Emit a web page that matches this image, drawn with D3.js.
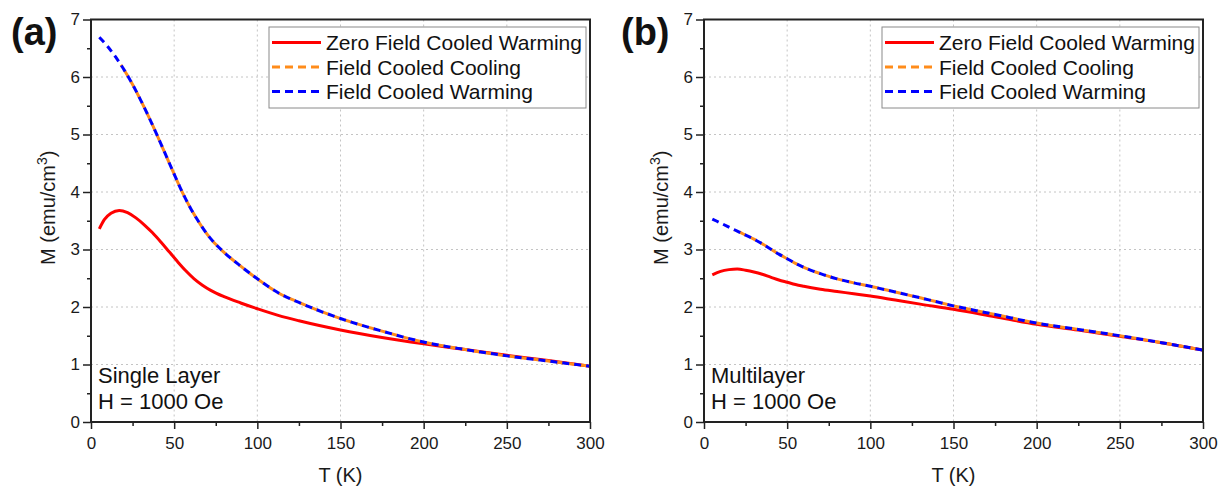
<!DOCTYPE html>
<html>
<head>
<meta charset="utf-8">
<script src="https://cdn.jsdelivr.net/npm/d3@7"></script>
<style>
  body { margin: 0; background: #fff; }
  svg { display: block; font-family: "Liberation Sans", Arial, sans-serif; }
</style>
</head>
<body>
<svg id="chart"></svg>
<script>
// ---- data ----
const seriesNames = ['Zero Field Cooled Warming', 'Field Cooled Cooling', 'Field Cooled Warming'];
const seriesColors = ['#ff0000', '#ff8c1a', '#0000ff'];

// (a) single layer
const aZfcT = [5, 8, 12, 17, 22, 27, 32, 37, 42, 47, 52, 57, 62, 67, 72, 80, 90, 100, 113, 125, 150, 175, 200, 225, 250, 275, 300];
const aZfcM = [3.36, 3.52, 3.63, 3.68, 3.64, 3.55, 3.43, 3.29, 3.13, 2.96, 2.79, 2.63, 2.49, 2.38, 2.29, 2.18, 2.07, 1.97, 1.85, 1.76, 1.60, 1.47, 1.36, 1.26, 1.16, 1.07, 0.97];
const aFcwT = [5, 10, 15, 20, 25, 30, 35, 40, 45, 50, 55, 60, 65, 70, 75, 80, 90, 100, 113, 125, 150, 175, 200, 225, 250, 275, 300];
const aFcwM = [6.69, 6.53, 6.34, 6.12, 5.87, 5.59, 5.29, 4.97, 4.64, 4.31, 3.99, 3.71, 3.47, 3.26, 3.09, 2.95, 2.71, 2.49, 2.24, 2.08, 1.80, 1.58, 1.39, 1.26, 1.15, 1.06, 0.97];
const aFccT = [18, 20, 25, 30, 35, 40, 45, 50, 55, 60, 65, 70, 75, 80, 90, 100, 113, 125, 150, 175, 200, 225, 250, 275, 300];
const aFccM = [6.21, 6.12, 5.87, 5.59, 5.29, 4.97, 4.64, 4.31, 3.99, 3.71, 3.47, 3.26, 3.09, 2.95, 2.71, 2.49, 2.24, 2.08, 1.80, 1.58, 1.39, 1.26, 1.15, 1.06, 0.97];

// (b) multilayer
const bZfcT = [5, 10, 15, 20, 25, 30, 35, 40, 45, 50, 55, 60, 70, 80, 90, 100, 115, 130, 150, 175, 200, 225, 250, 275, 300];
const bZfcM = [2.56, 2.62, 2.65, 2.66, 2.64, 2.61, 2.57, 2.52, 2.47, 2.43, 2.39, 2.36, 2.31, 2.27, 2.23, 2.19, 2.12, 2.05, 1.96, 1.83, 1.70, 1.60, 1.49, 1.38, 1.25];
const bFcwT = [5, 10, 15, 20, 25, 30, 35, 40, 45, 50, 55, 60, 70, 80, 90, 100, 115, 130, 150, 175, 200, 225, 250, 275, 300];
const bFcwM = [3.53, 3.46, 3.39, 3.32, 3.25, 3.18, 3.10, 3.01, 2.92, 2.84, 2.76, 2.69, 2.58, 2.49, 2.42, 2.36, 2.26, 2.16, 2.02, 1.87, 1.72, 1.61, 1.50, 1.38, 1.25];
const bFccT = [18, 20, 25, 30, 35, 40, 45, 50, 55, 60, 70, 80, 90, 100, 115, 130, 150, 175, 200, 225, 250, 275, 300];
const bFccM = [3.34, 3.32, 3.25, 3.18, 3.10, 3.01, 2.92, 2.84, 2.76, 2.69, 2.58, 2.49, 2.42, 2.36, 2.26, 2.16, 2.02, 1.87, 1.72, 1.61, 1.50, 1.38, 1.25];

const xTicks = [0, 50, 100, 150, 200, 250, 300];
const xMinor = [25, 75, 125, 175, 225, 275];
const yTicks = [0, 1, 2, 3, 4, 5, 6, 7];
const yMinor = [0.5, 1.5, 2.5, 3.5, 4.5, 5.5, 6.5];

const panels = [
  { tag: '(a)', left: 91, tagX: 11, titleX: 55, sample: ['Single Layer', 'H = 1000 Oe'],
    zfc: [aZfcT, aZfcM], fcc: [aFccT, aFccM], fcw: [aFcwT, aFcwM] },
  { tag: '(b)', left: 704, tagX: 621, titleX: 668, sample: ['Multilayer', 'H = 1000 Oe'],
    zfc: [bZfcT, bZfcM], fcc: [bFccT, bFccM], fcw: [bFcwT, bFcwM] }
];

// ---- layout ----
const width = 1222, height = 487;
const plotTop = 19.5, plotH = 402.5, plotW = 499;
const dash = '7,5';

const svg = d3.select('#chart').attr('width', width).attr('height', height);

const toPts = ([T, M]) => T.map((t, i) => ({ t: t, m: M[i] }));

panels.forEach(p => {
  const g = svg.append('g').attr('transform', `translate(${p.left},${plotTop})`);

  const x = d3.scaleLinear().domain([0, 300]).range([0, plotW]);
  const y = d3.scaleLinear().domain([0, 7]).range([plotH, 0]);

  // grid
  g.append('g').selectAll('line')
    .data(xTicks.slice(1, -1)).enter().append('line')
    .attr('x1', d => x(d)).attr('x2', d => x(d))
    .attr('y1', 0).attr('y2', plotH)
    .attr('stroke', '#c4c4c4').attr('stroke-width', 1).attr('stroke-dasharray', '2,3');
  g.append('g').selectAll('line')
    .data(yTicks.slice(1, -1)).enter().append('line')
    .attr('x1', 0).attr('x2', plotW)
    .attr('y1', d => y(d)).attr('y2', d => y(d))
    .attr('stroke', '#c4c4c4').attr('stroke-width', 1).attr('stroke-dasharray', '2,3');

  // curves
  const line = d3.line().x(d => x(d.t)).y(d => y(d.m)).curve(d3.curveMonotoneX);

  g.append('path').datum(toPts(p.zfc))
    .attr('d', line).attr('fill', 'none')
    .attr('stroke', seriesColors[0]).attr('stroke-width', 3);

  // phase the orange dashes so they sit in the blue gaps
  const fcwPts = toPts(p.fcw);
  const fccPts = toPts(p.fcc);
  const tmp = g.append('path').datum(fcwPts.filter(d => d.t < fccPts[0].t).concat([fccPts[0]]))
    .attr('d', line).attr('fill', 'none');
  const offs = tmp.node().getTotalLength() - 6;
  tmp.remove();

  g.append('path').datum(fccPts)
    .attr('d', line).attr('fill', 'none')
    .attr('stroke', seriesColors[1]).attr('stroke-width', 3)
    .attr('stroke-dasharray', dash).attr('stroke-dashoffset', offs);

  g.append('path').datum(fcwPts)
    .attr('d', line).attr('fill', 'none')
    .attr('stroke', seriesColors[2]).attr('stroke-width', 3)
    .attr('stroke-dasharray', dash);

  // axes
  g.append('g').attr('transform', `translate(0,${plotH})`)
    .call(d3.axisBottom(x).tickValues(xTicks).tickSize(7).tickPadding(8).tickFormat(d3.format('d')));
  g.append('g').attr('transform', `translate(0,${plotH})`)
    .call(d3.axisBottom(x).tickValues(xMinor).tickSize(4).tickFormat(''));
  g.append('g')
    .call(d3.axisLeft(y).tickValues(yTicks).tickSize(8).tickPadding(3).tickFormat(d3.format('d')));
  g.append('g')
    .call(d3.axisLeft(y).tickValues(yMinor).tickSize(4).tickFormat(''));

  g.selectAll('.tick line').attr('stroke', '#222').attr('stroke-width', 1.5);
  g.selectAll('.domain').remove();
  g.selectAll('.tick text').attr('font-size', 17).attr('fill', '#1a1a1a')
    .attr('font-family', '"Liberation Sans", Arial, sans-serif');

  // frame
  g.append('rect').attr('x', 0).attr('y', 0).attr('width', plotW).attr('height', plotH)
    .attr('fill', 'none').attr('stroke', '#222').attr('stroke-width', 2);

  // axis titles
  g.append('text').attr('x', plotW / 2).attr('y', 462)
    .attr('text-anchor', 'middle').attr('font-size', 20).attr('fill', '#1a1a1a')
    .text('T (K)');
  const yt = g.append('text')
    .attr('transform', `translate(${p.titleX - p.left},${265 - plotTop}) rotate(-90)`)
    .attr('font-size', 20).attr('fill', '#1a1a1a');
  yt.append('tspan').text('M (emu/cm');
  yt.append('tspan').attr('font-size', 14).attr('dy', -8).text('3');
  yt.append('tspan').attr('dy', 8).text(')');

  // panel tag
  g.append('text').attr('x', p.tagX - p.left).attr('y', 45 - plotTop)
    .attr('font-size', 38).attr('font-weight', 'bold').attr('fill', '#111')
    .text(p.tag);

  // sample annotation
  p.sample.forEach((s, i) => {
    g.append('text').attr('x', 7).attr('y', 363 + i * 26.5)
      .attr('font-size', 22).attr('fill', '#111').text(s);
  });

  // legend
  const lg = g.append('g').attr('transform', 'translate(178,7.5)');
  lg.append('rect').attr('width', 317).attr('height', 81)
    .attr('fill', '#fff').attr('stroke', '#8a8a8a').attr('stroke-width', 1);
  [0, 1, 2].forEach(i => {
    const yy = 15.5 + i * 24.5;
    lg.append('line').attr('x1', 3).attr('x2', 52).attr('y1', yy).attr('y2', yy)
      .attr('stroke', seriesColors[i]).attr('stroke-width', 3)
      .attr('stroke-dasharray', i === 0 ? null : '8,5');
    lg.append('text').attr('x', 57).attr('y', yy + 7.5)
      .attr('font-size', 21).attr('fill', '#111').text(seriesNames[i]);
  });
});
</script>
</body>
</html>
